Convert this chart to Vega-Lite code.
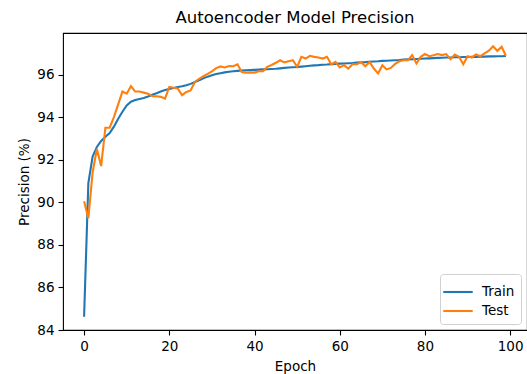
{
  "$schema": "https://vega.github.io/schema/vega-lite/v6.json",
  "width": 464,
  "height": 297,
  "autosize": {"type": "none"},
  "padding": {"left": 63, "top": 33, "right": 0, "bottom": 44},
  "background": "white",
  "title": {"text": "Autoencoder Model Precision", "fontSize": 16.5, "font": "DejaVu Sans", "fontWeight": "normal", "color": "#000000", "offset": 7, "anchor": "middle"},
  "config": {
    "font": "DejaVu Sans",
    "view": {"stroke": "#000000", "strokeWidth": 1.1},
    "axis": {"grid": false, "domain": false, "tickColor": "#000000", "tickWidth": 1.1, "tickSize": 5, "labelFontSize": 13.5, "labelColor": "#000000", "labelPadding": 4, "titleFontSize": 13.5, "titleFontWeight": "normal", "titleColor": "#000000", "labelFont": "DejaVu Sans", "titleFont": "DejaVu Sans", "titlePadding": 5},
    "axisX": {"titlePadding": 7},
    "legend": {"orient": "bottom-right", "offset": 6, "padding": 6, "strokeColor": "#d0d0d0", "strokeWidth": 1, "fillColor": "rgba(255,255,255,0.8)", "cornerRadius": 3, "symbolType": "M-1.4,0H1.4", "symbolSize": 441, "symbolStrokeWidth": 2.1, "labelFontSize": 13.5, "labelFont": "DejaVu Sans", "labelColor": "#000000", "labelOffset": 12, "rowPadding": 0}
  },
  "data": {"values": [
    {"epoch": 0, "train": 84.62, "test": 90.05},
    {"epoch": 1, "train": 90.9, "test": 89.25},
    {"epoch": 2, "train": 92.15, "test": 91.4},
    {"epoch": 3, "train": 92.6, "test": 92.5},
    {"epoch": 4, "train": 92.88, "test": 91.7},
    {"epoch": 5, "train": 93.08, "test": 93.5},
    {"epoch": 6, "train": 93.25, "test": 93.5},
    {"epoch": 7, "train": 93.55, "test": 94.0},
    {"epoch": 8, "train": 93.92, "test": 94.6},
    {"epoch": 9, "train": 94.25, "test": 95.2},
    {"epoch": 10, "train": 94.55, "test": 95.1},
    {"epoch": 11, "train": 94.72, "test": 95.45},
    {"epoch": 12, "train": 94.8, "test": 95.2},
    {"epoch": 13, "train": 94.85, "test": 95.2},
    {"epoch": 14, "train": 94.9, "test": 95.15},
    {"epoch": 15, "train": 94.97, "test": 95.1},
    {"epoch": 16, "train": 95.05, "test": 94.98},
    {"epoch": 17, "train": 95.12, "test": 94.98},
    {"epoch": 18, "train": 95.2, "test": 94.95},
    {"epoch": 19, "train": 95.27, "test": 94.87},
    {"epoch": 20, "train": 95.32, "test": 95.42},
    {"epoch": 21, "train": 95.37, "test": 95.38},
    {"epoch": 22, "train": 95.41, "test": 95.34},
    {"epoch": 23, "train": 95.45, "test": 95.03},
    {"epoch": 24, "train": 95.5, "test": 95.18},
    {"epoch": 25, "train": 95.56, "test": 95.25},
    {"epoch": 26, "train": 95.65, "test": 95.65},
    {"epoch": 27, "train": 95.73, "test": 95.8},
    {"epoch": 28, "train": 95.82, "test": 95.92},
    {"epoch": 29, "train": 95.9, "test": 96.03},
    {"epoch": 30, "train": 95.96, "test": 96.15},
    {"epoch": 31, "train": 96.02, "test": 96.3},
    {"epoch": 32, "train": 96.06, "test": 96.38},
    {"epoch": 33, "train": 96.1, "test": 96.33},
    {"epoch": 34, "train": 96.13, "test": 96.4},
    {"epoch": 35, "train": 96.15, "test": 96.39},
    {"epoch": 36, "train": 96.17, "test": 96.48},
    {"epoch": 37, "train": 96.19, "test": 96.12},
    {"epoch": 38, "train": 96.2, "test": 96.09},
    {"epoch": 39, "train": 96.21, "test": 96.1},
    {"epoch": 40, "train": 96.22, "test": 96.09},
    {"epoch": 41, "train": 96.23, "test": 96.15},
    {"epoch": 42, "train": 96.24, "test": 96.15},
    {"epoch": 43, "train": 96.25, "test": 96.36},
    {"epoch": 44, "train": 96.26, "test": 96.45},
    {"epoch": 45, "train": 96.27, "test": 96.55},
    {"epoch": 46, "train": 96.29, "test": 96.67},
    {"epoch": 47, "train": 96.31, "test": 96.57},
    {"epoch": 48, "train": 96.33, "test": 96.62},
    {"epoch": 49, "train": 96.34, "test": 96.67},
    {"epoch": 50, "train": 96.35, "test": 96.36},
    {"epoch": 51, "train": 96.37, "test": 96.83},
    {"epoch": 52, "train": 96.39, "test": 96.75},
    {"epoch": 53, "train": 96.41, "test": 96.88},
    {"epoch": 54, "train": 96.43, "test": 96.83},
    {"epoch": 55, "train": 96.44, "test": 96.8},
    {"epoch": 56, "train": 96.46, "test": 96.75},
    {"epoch": 57, "train": 96.47, "test": 96.83},
    {"epoch": 58, "train": 96.49, "test": 96.48},
    {"epoch": 59, "train": 96.5, "test": 96.59},
    {"epoch": 60, "train": 96.51, "test": 96.33},
    {"epoch": 61, "train": 96.52, "test": 96.44},
    {"epoch": 62, "train": 96.53, "test": 96.28},
    {"epoch": 63, "train": 96.54, "test": 96.48},
    {"epoch": 64, "train": 96.56, "test": 96.48},
    {"epoch": 65, "train": 96.57, "test": 96.59},
    {"epoch": 66, "train": 96.58, "test": 96.39},
    {"epoch": 67, "train": 96.6, "test": 96.59},
    {"epoch": 68, "train": 96.61, "test": 96.28},
    {"epoch": 69, "train": 96.62, "test": 96.05},
    {"epoch": 70, "train": 96.64, "test": 96.44},
    {"epoch": 71, "train": 96.65, "test": 96.24},
    {"epoch": 72, "train": 96.66, "test": 96.31},
    {"epoch": 73, "train": 96.67, "test": 96.5},
    {"epoch": 74, "train": 96.68, "test": 96.62},
    {"epoch": 75, "train": 96.7, "test": 96.67},
    {"epoch": 76, "train": 96.71, "test": 96.67},
    {"epoch": 77, "train": 96.72, "test": 96.91},
    {"epoch": 78, "train": 96.73, "test": 96.52},
    {"epoch": 79, "train": 96.74, "test": 96.83},
    {"epoch": 80, "train": 96.75, "test": 96.96},
    {"epoch": 81, "train": 96.76, "test": 96.86},
    {"epoch": 82, "train": 96.77, "test": 96.9},
    {"epoch": 83, "train": 96.78, "test": 96.96},
    {"epoch": 84, "train": 96.79, "test": 96.91},
    {"epoch": 85, "train": 96.8, "test": 96.96},
    {"epoch": 86, "train": 96.8, "test": 96.72},
    {"epoch": 87, "train": 96.81, "test": 96.94},
    {"epoch": 88, "train": 96.81, "test": 96.83},
    {"epoch": 89, "train": 96.82, "test": 96.48},
    {"epoch": 90, "train": 96.82, "test": 96.86},
    {"epoch": 91, "train": 96.83, "test": 96.8},
    {"epoch": 92, "train": 96.83, "test": 96.94},
    {"epoch": 93, "train": 96.84, "test": 96.86},
    {"epoch": 94, "train": 96.84, "test": 96.99},
    {"epoch": 95, "train": 96.85, "test": 97.12},
    {"epoch": 96, "train": 96.85, "test": 97.33},
    {"epoch": 97, "train": 96.86, "test": 97.11},
    {"epoch": 98, "train": 96.86, "test": 97.3},
    {"epoch": 99, "train": 96.87, "test": 96.88}
  ]},
  "layer": [
    {
      "mark": {"type": "line", "strokeWidth": 2.1},
      "encoding": {
        "x": {"field": "epoch", "type": "quantitative", "scale": {"domain": [-4.95, 103.95], "nice": false, "zero": false}, "axis": {"values": [0, 20, 40, 60, 80, 100], "title": "Epoch"}},
        "y": {"field": "train", "type": "quantitative", "scale": {"domain": [84.0, 97.95], "nice": false, "zero": false}, "axis": {"values": [84, 86, 88, 90, 92, 94, 96], "title": "Precision (%)"}},
        "color": {"datum": "Train", "type": "nominal", "scale": {"domain": ["Train", "Test"], "range": ["#1f77b4", "#ff7f0e"]}, "legend": {"title": null}}
      }
    },
    {
      "mark": {"type": "line", "strokeWidth": 2.1},
      "encoding": {
        "x": {"field": "epoch", "type": "quantitative"},
        "y": {"field": "test", "type": "quantitative"},
        "color": {"datum": "Test", "type": "nominal"}
      }
    }
  ]
}
